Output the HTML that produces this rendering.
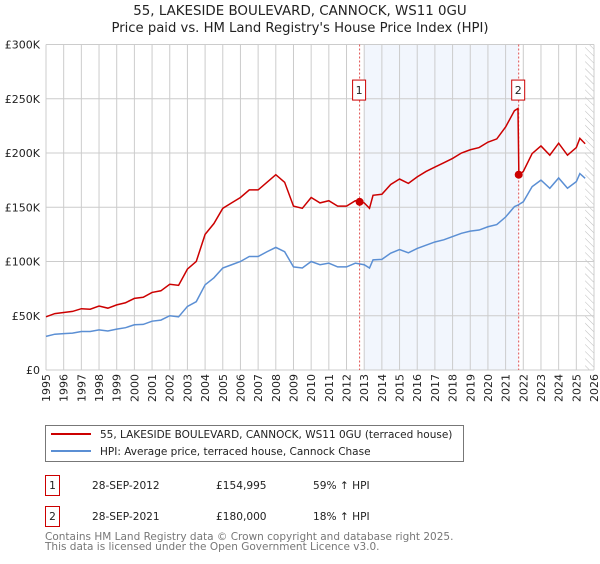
<!DOCTYPE html>
<html><head><meta charset="utf-8"><style>
body{margin:0;background:#fff;font-family:"DejaVu Sans","Liberation Sans",sans-serif;}
svg text{font-family:"DejaVu Sans","Liberation Sans",sans-serif;}
</style></head><body>
<svg id="c" width="600" height="560" xmlns="http://www.w3.org/2000/svg">
<text x="300" y="15" text-anchor="middle" font-size="13.4" fill="#222">55, LAKESIDE BOULEVARD, CANNOCK, WS11 0GU</text>
<text x="300" y="32" text-anchor="middle" font-size="13.2" fill="#222">Price paid vs. HM Land Registry's House Price Index (HPI)</text>
<g id="plot"></g>
<g>
<rect x="45.5" y="425.5" width="418" height="36" fill="#fff" stroke="#777"/>
<line x1="51" y1="434" x2="91" y2="434" stroke="#cc0000" stroke-width="2"/>
<text x="100" y="438" font-size="10.5" fill="#222">55, LAKESIDE BOULEVARD, CANNOCK, WS11 0GU (terraced house)</text>
<line x1="51" y1="451" x2="91" y2="451" stroke="#5b8fd4" stroke-width="2"/>
<text x="100" y="455" font-size="10.5" fill="#222">HPI: Average price, terraced house, Cannock Chase</text>
</g>
<g font-size="10.6" fill="#222">
<rect x="45.5" y="475.5" width="14" height="20" fill="#fff" stroke="#cc0000"/>
<text x="52.5" y="489" text-anchor="middle">1</text>
<text x="92" y="489">28-SEP-2012</text><text x="216" y="489">£154,995</text><text x="313" y="489">59% ↑ HPI</text>
<rect x="45.5" y="506.5" width="14" height="20" fill="#fff" stroke="#cc0000"/>
<text x="52.5" y="520" text-anchor="middle">2</text>
<text x="92" y="520">28-SEP-2021</text><text x="216" y="520">£180,000</text><text x="313" y="520">18% ↑ HPI</text>
</g>
<text x="45" y="540" font-size="10.5" fill="#777">Contains HM Land Registry data © Crown copyright and database right 2025.</text>
<text x="45" y="550" font-size="10.5" fill="#777">This data is licensed under the Open Government Licence v3.0.</text>
</svg>
<script>
const hpiYears=[1995,1995.5,1996,1996.5,1997,1997.5,1998,1998.5,1999,1999.5,2000,2000.5,2001,2001.5,2002,2002.5,2003,2003.5,2004,2004.5,2005,2005.5,2006,2006.5,2007,2007.5,2008,2008.5,2009,2009.5,2010,2010.5,2011,2011.5,2012,2012.5,2013,2013.3,2013.5,2014,2014.5,2015,2015.5,2016,2016.5,2017,2017.5,2018,2018.5,2019,2019.5,2020,2020.5,2021,2021.5,2021.7,2021.75,2022,2022.5,2023,2023.5,2024,2024.5,2025,2025.2,2025.5];
const hpiValues=[31,33,33.5,34,35.5,35.5,37,36,37.7,39,41.7,42,45,46,50,49,58.6,63,78.5,85,94,97,100,104.6,104.6,109,113,109,95,94,100,97,98.5,95,95,98.5,97,94,101.5,102,107.7,111,108,112,115,118,120,123,126,128,129,132,134,141,150.6,152,152.5,155,169,175,167.5,177,167.5,173.6,181,176.7];
const priceYears=hpiYears;
const priceValues=[49,52,53,54,56.5,56,59,57,60,62,66,67,71.5,73,79,78,93,100,125,135,149,154,159,166,166,173,180,173,151,149,159,154,156,151,151,156,154,149,161,162,171,176,172,178,183,187,191,195,200,203,205,210,213,224,239,241,180,183,199.5,206.5,198,209,198,205,213.5,208.5];
const yTicks=[0,50,100,150,200,250,300];
const yTickLabels=["£0","£50K","£100K","£150K","£200K","£250K","£300K"];
const xTicks=[1995,1996,1997,1998,1999,2000,2001,2002,2003,2004,2005,2006,2007,2008,2009,2010,2011,2012,2013,2014,2015,2016,2017,2018,2019,2020,2021,2022,2023,2024,2025,2026];
const saleYears=[2012.74,2021.74];
const saleValues=[154.995,180];
const saleLabels=["1","2"];

const NS="http://www.w3.org/2000/svg";
const L=46,R=594,T=44.5,B=370;
const x=v=>L+(v-1995)/(2026-1995)*(R-L);
const y=v=>B-v/300*(B-T);
const g=document.getElementById('plot');
function mk(tag,at){const e=document.createElementNS(NS,tag);for(const k in at)e.setAttribute(k,at[k]);g.appendChild(e);return e;}
let e;
e=mk('rect',{x:x(2013),y:T,width:x(2021.74)-x(2013),height:B-T,fill:'#f2f6fd'});


const defs=mk('defs',{});
defs.innerHTML='<pattern id="h" width="5" height="5" patternUnits="userSpaceOnUse" patternTransform="rotate(-45)"><line x1="0" y1="0" x2="0" y2="5" stroke="#bbb" stroke-width="1"/></pattern>';
e=mk('rect',{x:x(2025.5),y:T,width:R-x(2025.5),height:B-T,fill:'url(#h)'});


xTicks.forEach(t=>{
 e=mk('line',{x1:x(t),x2:x(t),y1:T,y2:B,stroke:'#ccc','stroke-width':1});
 
 
 e=mk('text',{transform:`translate(${x(t)+4},${B+4}) rotate(-90)`,'text-anchor':'end','font-size':11,fill:'#222'});
 e.textContent=t;
 
 
});
yTicks.forEach((t,i)=>{
 e=mk('line',{x1:L,x2:R,y1:y(t),y2:y(t),stroke:'#ccc','stroke-width':1});
 
 
 e=mk('text',{x:L-6,y:y(t)+4,'text-anchor':'end','font-size':11,fill:'#222'});
 e.textContent=yTickLabels[i];
 
 
});
saleYears.forEach(s=>{
 e=mk('line',{x1:x(s),x2:x(s),y1:T,y2:B,stroke:'#e05050','stroke-width':1,'stroke-dasharray':'2,2'});
 
 
});
e=mk('polyline',{points:hpiYears.map((t,i)=>x(t)+','+y(hpiValues[i])).join(' '),fill:'none',stroke:'#5b8fd4','stroke-width':1.5});


e=mk('polyline',{points:priceYears.map((t,i)=>x(t)+','+y(priceValues[i])).join(' '),fill:'none',stroke:'#cc0000','stroke-width':1.5});


saleYears.forEach((s,i)=>{
 e=mk('circle',{cx:x(s),cy:y(saleValues[i]),r:4,fill:'#cc0000'});
 
 
 e=mk('rect',{x:x(s)-7,y:y(258)-10,width:13,height:20,fill:'#fff',stroke:'#cc0000'});
 
 
 e=mk('text',{x:x(s)-0.5,y:y(258)+4,'text-anchor':'middle','font-size':11,fill:'#222'});
 e.textContent=saleLabels[i];
 
 
});
</script>
</body></html>
